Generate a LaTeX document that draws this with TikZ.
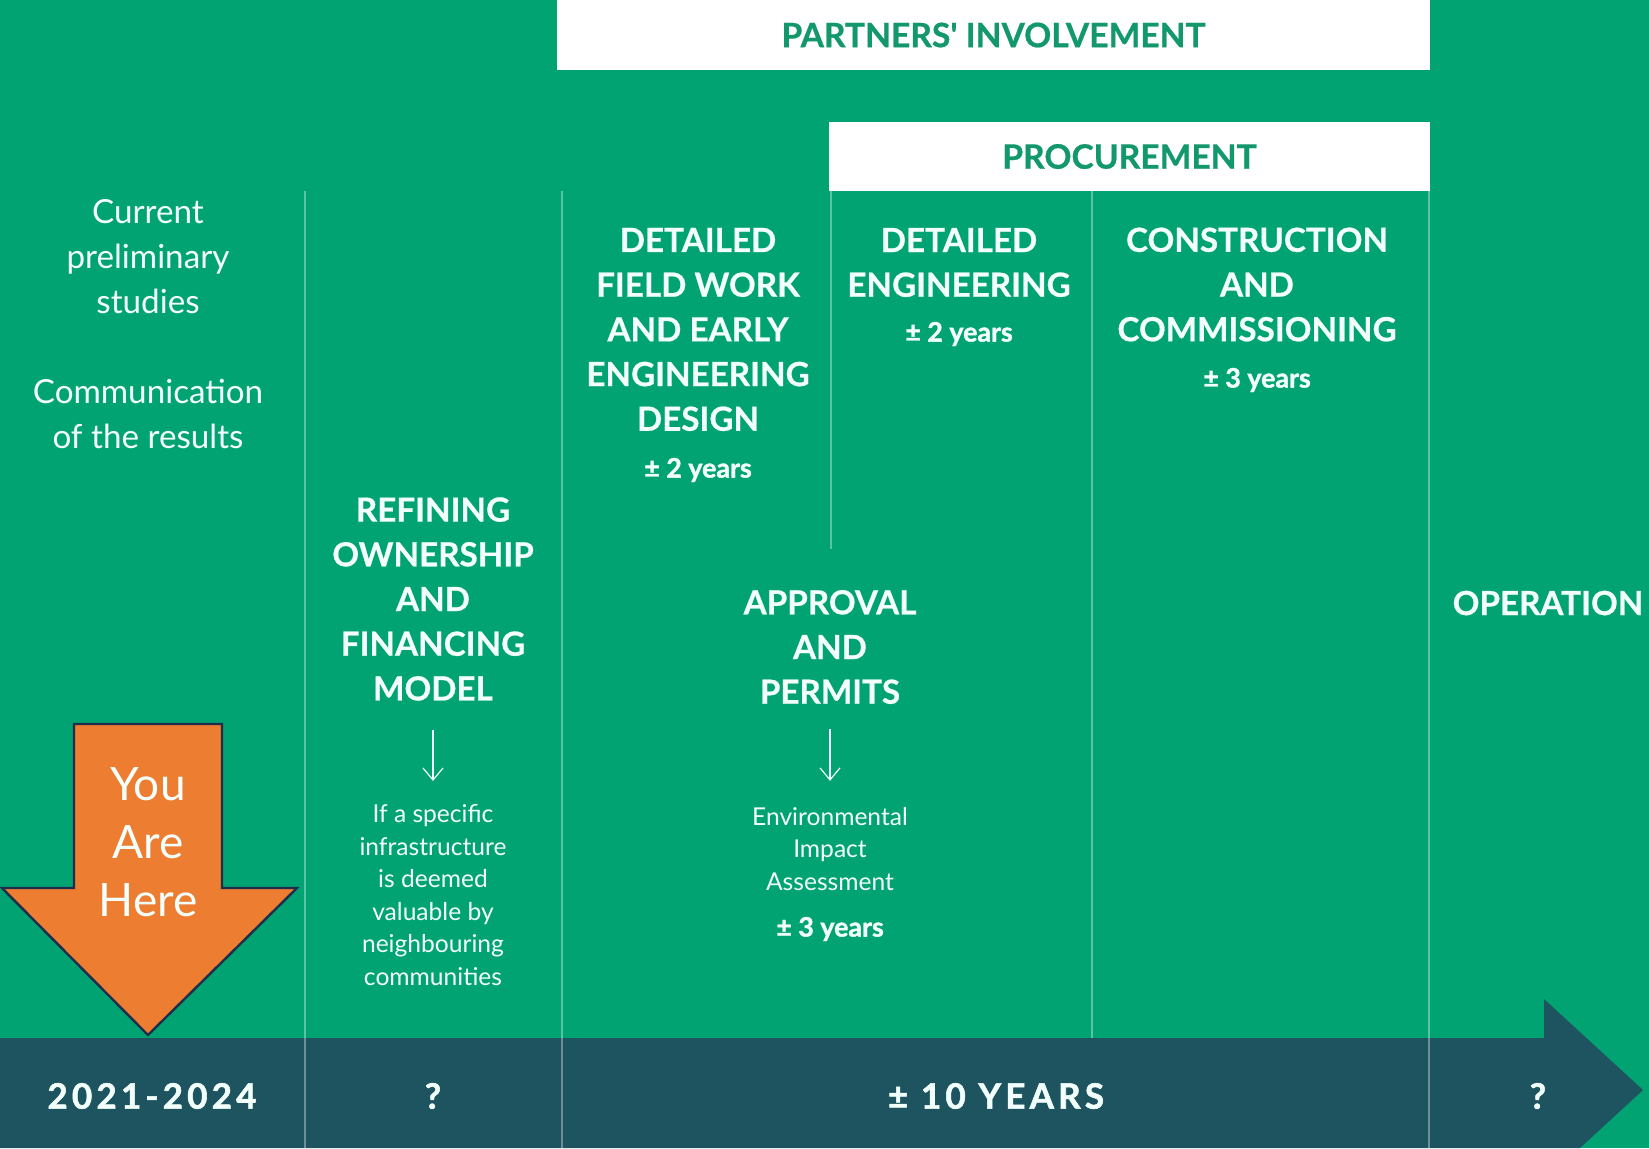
\documentclass[tikz,border=0pt]{standalone}
\usepackage{fontspec}
\setmainfont{Lato}
\newfontfamily\tlfont[LetterSpace=12,FakeBold=1.6]{Lato}
\newfontfamily\durfont[FakeBold=1.4]{Lato}
\newfontfamily\headfont[FakeBold=0.6]{Lato}
\usetikzlibrary{arrows.meta}
\definecolor{bg}{RGB}{2,163,114}
\definecolor{barc}{RGB}{30,84,96}
\definecolor{boxtxt}{RGB}{18,152,106}
\definecolor{orangeA}{RGB}{237,125,49}
\definecolor{navyA}{RGB}{31,45,77}
\definecolor{txt}{RGB}{242,255,250}
\begin{document}
\begin{tikzpicture}[x=0.5pt,y=-0.5pt,
  head/.style={text=txt,font=\fontsize{16.6}{22.35}\headfont\bfseries,align=center,inner sep=0pt},
  body/.style={text=txt,font=\fontsize{16.6}{22.5}\selectfont,align=center,inner sep=0pt},
  smalltxt/.style={text=txt,font=\fontsize{12.3}{16.3}\selectfont,align=center,inner sep=0pt},
  dur/.style={text=txt,font=\fontsize{13.4}{15}\durfont\bfseries,inner sep=0pt},
  wbox/.style={fill=white,text=boxtxt,font=\fontsize{16.8}{18}\headfont\bfseries,inner sep=0pt},
  tl/.style={text=txt,font=\fontsize{17.5}{20}\tlfont\bfseries,inner sep=0pt},
  divider/.style={draw=white,draw opacity=0.35,line width=0.75pt},
  thinarrow/.style={draw=txt,line width=0.6pt,-{Straight Barb[length=6pt,width=10pt]}}]
\useasboundingbox (0,0) rectangle (1649,1148);
\fill[bg] (0,0) rectangle (1649,1148);
% timeline bar
\fill[barc] (0,1038) -- (1544,1038) -- (1544,999) -- (1643,1090) -- (1580,1148) -- (0,1148) -- cycle;
% top boxes
\node[wbox,minimum width=436.5pt,minimum height=35pt] (partners) at (993.5,35) {PARTNERS\textquotesingle{} INVOLVEMENT};
\node[wbox,minimum width=300.5pt,minimum height=34.5pt] (procure) at (1129.5,156.5) {PROCUREMENT};
% dividers
\coordinate (d1t) at (305,191); \coordinate (d1b) at (305,1148);
\coordinate (d2t) at (562,191); \coordinate (d2b) at (562,1148);
\coordinate (d3t) at (831,191); \coordinate (d3b) at (831,549);
\coordinate (d4t) at (1092,191); \coordinate (d4b) at (1092,1038);
\coordinate (d5t) at (1429,191); \coordinate (d5b) at (1429,1148);
\draw[divider] (d1t) -- (d1b);
\draw[divider] (d2t) -- (d2b);
\draw[divider] (d3t) -- (d3b);
\draw[divider] (d4t) -- (d4b);
\draw[divider] (d5t) -- (d5b);
% column 1
\node[body] (cur) at (148,257) {Current\\preliminary\\studies};
\node[body] (comm) at (148,414) {Communication\\of the results};
% column 2
\node[head] (refin) at (433,599) {REFINING\\OWNERSHIP\\AND\\FINANCING\\MODEL};
\node[smalltxt] (ifa) at (433,895) {If a specific\\infrastructure\\is deemed\\valuable by\\neighbouring\\communities};
\draw[thinarrow] ([yshift=-14.5pt]refin.south) -- ([yshift=11.5pt]ifa.north);
% column 3
\node[head] (field) at (698,329.5) {DETAILED\\FIELD WORK\\AND EARLY\\ENGINEERING\\DESIGN};
\node[dur] (dur1) at (698,470) {± 2 years};
% column 4
\node[head] (deteng) at (959,262.5) {DETAILED\\ENGINEERING};
\node[dur] (dur2) at (959,334) {± 2 years};
% column 5
\node[head] (cons) at (1257,284.5) {CONSTRUCTION\\AND\\COMMISSIONING};
\node[dur] (dur3) at (1257,380) {± 3 years};
% approval
\node[head] (appr) at (830,647) {APPROVAL\\AND\\PERMITS};
\node[smalltxt] (env) at (830,849) {Environmental\\Impact\\Assessment};
\node[dur] (dur4) at (830,929) {± 3 years};
\draw[thinarrow] ([yshift=-12.5pt]appr.south) -- ([yshift=13pt]env.north);
% operation
\node[head] (oper) at (1548,603) {OPERATION};
% you are here
\draw[fill=orangeA,draw=navyA,line width=1.2pt,line join=miter]
  (74,724) -- (222,724) -- (222,888) -- (297,888) -- (148,1035) -- (2,888) -- (74,888) -- cycle;
\node[text=txt,font=\fontsize{23}{29}\selectfont,align=center,inner sep=0pt] (here) at (148,842) {You\\Are\\Here};
% timeline labels
\node[tl] (t1) at (152,1096) {2021-2024};
\node[tl] (t2) at (433,1096) {?};
\node[tl] (t3) at (996,1096) {± 10 YEARS};
\node[tl] (t4) at (1538,1096) {?};
\end{tikzpicture}
\end{document}
